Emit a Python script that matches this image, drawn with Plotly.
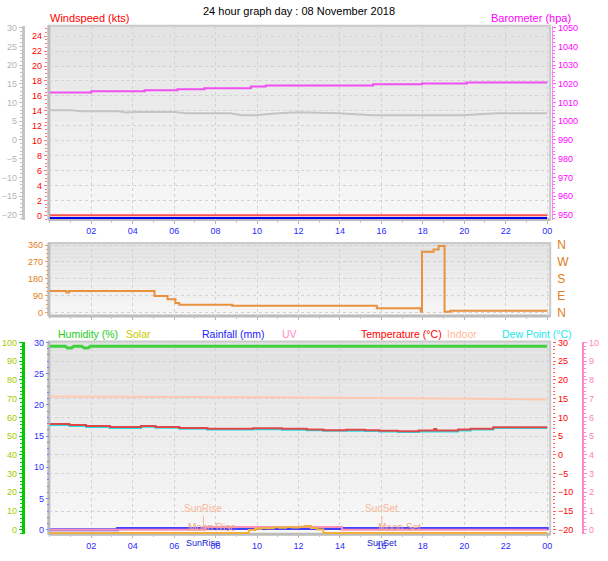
import plotly.graph_objects as go

W, H = 608, 561

# ---------------- data ----------------
hour_ticks = [2, 4, 6, 8, 10, 12, 14, 16, 18, 20, 22, 24]
hour_labels = ["02", "04", "06", "08", "10", "12", "14", "16", "18", "20", "22", "00"]

# panel 1 : wind / barometer
wind_t = [0, 24]
wind_speed_kts = [0, 0]
wind_gust_kts = [0, 0]

baro_t = [0, 2.0, 4.57, 6.16, 7.46, 9.7, 10.42, 15.6, 17.96, 20.12, 24]
baro_hpa = [1015.3, 1016.0, 1016.5, 1017.05, 1017.6, 1018.6, 1019.15, 1019.7, 1020.2, 1020.7, 1020.7]

feels_t = [0, 1.0, 1.5, 3.3, 3.7, 4.1, 6.0, 6.6, 8.7, 9.3, 9.9, 11.0, 12.0, 13.9, 15.6, 19.9, 21.6, 24]
feels_c = [7.93, 7.93, 7.67, 7.67, 7.33, 7.48, 7.48, 7.14, 7.14, 6.62, 6.62, 7.14, 7.4, 7.14, 6.62, 6.62, 7.14, 7.14]

# panel 2 : wind direction
dir_t = [0, 0.8, 0.92, 5.05, 5.68, 6.06, 6.25, 8.8, 15.78, 17.9, 17.96, 18.52, 18.76, 19.05, 19.32, 24]
dir_deg = [115, 107, 115, 89, 72, 52, 42, 37, 23, 5, 325, 337, 355, 5, 10, 10]
dir_ticks = [0, 90, 180, 270, 360]
dir_letters = ["N", "E", "S", "W", "N"]

# panel 3 : humidity / temperature / rain / uv / solar
hum_t = [0, 0.75, 0.85, 1.05, 1.15, 1.55, 1.65, 1.85, 1.95, 24]
hum_pct = [98, 98, 97, 97, 98, 98, 97, 97, 98, 98]

temp_t = [0, 0.95, 1.75, 2.9, 4.4, 5.1, 6.25, 7.6, 9.8, 11.2, 12.4, 13.2, 14.3, 15.2,
          15.9, 16.8, 17.8, 18.55, 18.65, 19.7, 20.3, 21.4, 24]
temp_c = [8.24, 7.97, 7.71, 7.45, 7.71, 7.45, 7.18, 7.0, 7.1, 6.95, 6.8, 6.6, 6.7, 6.6,
          6.45, 6.3, 6.47, 6.9, 6.47, 6.74, 7.0, 7.37, 7.37]
dew_c = [8.0, 7.7, 7.45, 7.2, 7.5, 7.25, 6.95, 6.8, 6.85, 6.7, 6.55, 6.4, 6.45, 6.35,
         6.2, 6.1, 6.25, 6.6, 6.25, 6.5, 6.8, 7.2, 7.2]

indoor_t = [0, 6, 12, 20.5, 24]
indoor_c = [15.6, 15.5, 15.3, 15.0, 14.8]

rain_t = [0, 3.27, 23.98, 24]
rain_mm = [0, 0.2, 0.2, 0]

uv_t = [0, 7.5, 14.1, 24]
uv_idx = [0, 0.15, 0, 0]

solar_t = [0, 9.6, 9.9, 10.2, 10.5, 10.8, 11.1, 11.4, 11.7, 12.0, 12.3, 12.6, 12.9, 13.2, 24]
solar_wm2 = [0, 15, 22, 26, 24, 29, 27, 31, 28, 32, 36, 25, 18, 0, 0]

sunrise_h = 7.41
sunset_h = 16.02
moonrise_h = 7.84
moonset_h = 16.88

# ---------------- layout helpers ----------------
FONT = "Liberation Sans, Arial, sans-serif"


def xf(px):
    return px / W


def yf(py):
    return 1 - py / H


def rng(va, pa, vb, pb, top, bot):
    s = (pb - pa) / (vb - va)
    return [va + (bot - pa) / s, va + (top - pa) / s]


def dom(p):
    return [yf(p[1]), yf(p[0])]


P1 = (21, 218)
P2 = (242, 316)
P3 = (342, 538)
XDOM = [xf(49), xf(552)]
XRNG = [(49 - 50) / 20.79, (552 - 50) / 20.79]

fig = go.Figure()

# panel 1
fig.add_trace(go.Scatter(x=feels_t, y=feels_c, xaxis="x", yaxis="y2", mode="lines",
                         line=dict(color="#c4c4c4", width=2)))
fig.add_trace(go.Scatter(x=baro_t, y=baro_hpa, xaxis="x", yaxis="y3", mode="lines",
                         line=dict(color="#f050f0", width=2, shape="hv")))
fig.add_trace(go.Scatter(x=wind_t, y=wind_speed_kts, xaxis="x", yaxis="y", mode="lines",
                         line=dict(color="#ff5050", width=2)))
fig.add_trace(go.Scatter(x=wind_t, y=wind_gust_kts, xaxis="x", yaxis="y4", mode="lines",
                         line=dict(color="#0000ee", width=2)))

# panel 2
fig.add_trace(go.Scatter(x=dir_t, y=dir_deg, xaxis="x2", yaxis="y5", mode="lines",
                         line=dict(color="#e8913e", width=2, shape="hv")))
fig.add_trace(go.Scatter(x=dir_t, y=dir_deg, xaxis="x2", yaxis="y6", mode="lines",
                         line=dict(color="rgba(0,0,0,0)", width=0), hoverinfo="skip"))

# panel 3
fig.add_trace(go.Scatter(x=rain_t, y=rain_mm, xaxis="x3", yaxis="y7", mode="lines",
                         line=dict(color="#4040ff", width=3, shape="hv")))
fig.add_trace(go.Scatter(x=hum_t, y=hum_pct, xaxis="x3", yaxis="y8", mode="lines",
                         line=dict(color="#3ed33e", width=3)))
fig.add_trace(go.Scatter(x=indoor_t, y=indoor_c, xaxis="x3", yaxis="y9", mode="lines",
                         line=dict(color="#ffc8b0", width=2)))
fig.add_trace(go.Scatter(x=temp_t, y=dew_c, xaxis="x3", yaxis="y9", mode="lines",
                         line=dict(color="#20e0e8", width=2, shape="hv")))
fig.add_trace(go.Scatter(x=temp_t, y=temp_c, xaxis="x3", yaxis="y9", mode="lines",
                         line=dict(color="#e04848", width=2, shape="hv")))
fig.add_trace(go.Scatter(x=uv_t, y=uv_idx, xaxis="x3", yaxis="y10", mode="lines",
                         line=dict(color="#ff90b8", width=2, shape="hv")))
fig.add_trace(go.Scatter(x=solar_t, y=solar_wm2, xaxis="x3", yaxis="y11", mode="lines",
                         line=dict(color="#f0b040", width=2, shape="hv")))


# ---------------- axes ----------------
def xax(anchor, labels=True):
    return dict(domain=XDOM, range=XRNG, anchor=anchor, tickmode="array",
                tickvals=hour_ticks, ticktext=hour_labels, showticklabels=labels,
                tickfont=dict(family=FONT, size=9, color="#2a2aff"),
                ticks="outside", ticklen=3, tickcolor="#b8b8b8",
                minor=dict(tickmode="linear", tick0=0, dtick=1, ticks="outside",
                           ticklen=2, tickcolor="#c8c8c8", showgrid=False),
                showgrid=True, gridcolor="#d2d2d2", griddash="dot", gridwidth=1,
                zeroline=False, showline=False, fixedrange=True)


def yax(r, pos, color, tickcol, dtick, minor, side="left", overlay=None, grid=False,
        line=None, lw=1, tickvals=None, ticktext=None, size=9, ticks="outside", dom_=None):
    d = dict(range=r, anchor="free", position=pos, side=side,
             tickfont=dict(family=FONT, size=size, color=color),
             ticks=ticks, ticklen=3, tickcolor=tickcol,
             showgrid=grid, gridcolor="#d2d2d2", griddash="dot", gridwidth=1,
             zeroline=False, fixedrange=True)
    if dom_ is not None:
        d["domain"] = dom_
    if overlay:
        d["overlaying"] = overlay
    if tickvals is not None:
        d.update(tickmode="array", tickvals=tickvals, ticktext=ticktext)
    else:
        d.update(tickmode="linear", tick0=0, dtick=dtick)
    if minor:
        d["minor"] = dict(tickmode="linear", tick0=0, dtick=minor, ticks="outside",
                          ticklen=2, tickcolor=tickcol, showgrid=False)
    if line:
        d.update(showline=True, linecolor=line, linewidth=lw)
    else:
        d["showline"] = False
    return d


r_red1 = rng(0, 213.8, 24, 31.7, P1[0], P1[1])
r_grey1 = rng(-20, 213.3, 30, 23, P1[0], P1[1])
r_mag1 = rng(950, 213.3, 1050, 23, P1[0], P1[1])
r_gust = rng(0, 216.6, 24, 216.6 - (213.8 - 31.7), P1[0], P1[1])
r_dir = rng(0, 312.7, 360, 244, P2[0], P2[1])
r_rain = rng(0, 533.3, 30, 343, P3[0], P3[1])
r_hum = rng(0, 533.3, 100, 343, P3[0], P3[1])
r_temp = rng(-20, 533.3, 30, 343, P3[0], P3[1])
r_uv = rng(0, 533.3, 10, 343, P3[0], P3[1])
r_solar = rng(0, 536.5, 1000, 536.5 - 195, P3[0], P3[1])

layout = dict(
    width=W, height=H, autosize=False,
    margin=dict(l=0, r=0, t=0, b=0),
    paper_bgcolor="white", plot_bgcolor="rgba(0,0,0,0)",
    showlegend=False, hovermode=False,
    font=dict(family=FONT, size=9),
    xaxis=xax("y"),
    xaxis2=xax("y5", labels=False),
    xaxis3=xax("y7"),
    yaxis=yax(r_red1, xf(47), "#ff0000", "#ff7878", 2, 0.5, grid=True, dom_=dom(P1)),
    yaxis2=yax(r_grey1, xf(23), "#b4b4b4", "#c0c0c0", 5, 1, overlay="y",
               line="#c4c4c4", lw=3),
    yaxis3=yax(r_mag1, xf(554), "#ff00ff", "#ff66ff", 10, 2, side="right", overlay="y",
               line="#ff80ff", lw=1),
    yaxis4=dict(range=r_gust, overlaying="y", visible=False, fixedrange=True),
    yaxis5=yax(r_dir, xf(48), "#e07b20", "#f0a060", 90, 22.5, grid=True, dom_=dom(P2)),
    yaxis6=yax(r_dir, xf(553), "#e07b20", "#f0a060", None, None, side="right",
               overlay="y5", tickvals=dir_ticks, ticktext=dir_letters, size=12, ticks=""),
    yaxis7=yax(r_rain, xf(49), "#3030ff", "#8080ff", 5, 1, dom_=dom(P3)),
    yaxis8=yax(r_hum, xf(23), "#a0cc00", "#00cc00", 10, 2, overlay="y7",
               line="#00cc00", lw=3),
    yaxis9=yax(r_temp, xf(554), "#ff0000", "#ff6060", 5, 1, side="right", overlay="y7",
               grid=True),
    yaxis10=yax(r_uv, xf(585), "#ff80c0", "#ff88cc", 1, 0.2, side="right", overlay="y7",
                line="#ff88cc", lw=2),
    yaxis11=dict(range=r_solar, overlaying="y7", visible=False, fixedrange=True),
)
layout["yaxis6"]["ticklabelstandoff"] = 5

# ---------------- background shapes ----------------
shapes = []


def mix(c1, c2, f):
    return "rgb(%d,%d,%d)" % tuple(round(a + (b - a) * f) for a, b in zip(c1, c2))


for xr, yr, top_c, bot_c in [("x", "y", (226, 226, 226), (248, 248, 248)),
                             ("x2", "y5", (224, 224, 224), (247, 247, 247)),
                             ("x3", "y7", (225, 225, 225), (248, 248, 248))]:
    n = 18
    for i in range(n):
        shapes.append(dict(type="rect", xref=xr + " domain", yref=yr + " domain",
                           x0=0, x1=1, y0=i / n, y1=(i + 1) / n,
                           fillcolor=mix(bot_c, top_c, (i + 0.5) / n),
                           line=dict(width=0), layer="below"))
    shapes.append(dict(type="rect", xref=xr + " domain", yref=yr + " domain",
                       x0=0, x1=1, y0=0, y1=1, line=dict(color="#cacaca", width=2),
                       layer="below"))
    shapes.append(dict(type="line", xref=xr + " domain", yref=yr + " domain",
                       x0=0, x1=0, y0=0, y1=1, line=dict(color="#bcbcbc", width=3),
                       layer="below"))
    shapes.append(dict(type="line", xref=xr + " domain", yref=yr + " domain",
                       x0=0, x1=1, y0=0, y1=0, line=dict(color="#bcbcbc", width=3),
                       layer="below"))

for t in (sunrise_h, sunset_h):
    shapes.append(dict(type="line", xref="x3", yref="paper", x0=t, x1=t,
                       y0=yf(532), y1=yf(519),
                       line=dict(color="#f8b898", width=1), layer="above"))

layout["shapes"] = shapes

# ---------------- text ----------------
ann = []


def txt(text, xpx, ypx, color, size=11, xanchor="left", xref="paper"):
    x = xf(xpx) if xref == "paper" else xpx
    ann.append(dict(text=text, x=x, y=yf(ypx), xref=xref, yref="paper",
                    xanchor=xanchor, yanchor="middle", showarrow=False,
                    font=dict(family=FONT, size=size, color=color)))


LS = 10.5
txt("24 hour graph day : 08 November 2018", 299.5, 6.5, "#000000", xanchor="center")
txt("Windspeed (kts)", 48, 13, "#ff0000")
txt("Barometer (hpa)", 575, 13, "#ff00ff", xanchor="right")
txt("Humidity (%)", 56, 334, "#22cc22", size=LS)
txt("Solar", 124, 334, "#c8c800", size=LS)
txt("Rainfall (mm)", 201, 334, "#2020ff", size=LS)
txt("UV", 281, 334, "#ff88cc", size=LS)
txt("Temperature (°C)", 360, 334, "#ff0000", size=LS)
txt("Indoor", 446, 334, "#ffb898", size=LS)
txt("Dew Point (°C)", 502, 334, "#20e8f0", size=LS)

txt("SunRise", sunrise_h, 512, "#f8b898", size=10, xanchor="center", xref="x3")
txt("SunSet", sunset_h, 512, "#f8b898", size=10, xanchor="center", xref="x3")
txt("Moon Rise", moonrise_h, 531, "#f0a890", size=10, xanchor="center", xref="x3")
txt("Moon Set", moonset_h, 531, "#f0a890", size=10, xanchor="center", xref="x3")
txt("SunRise", sunrise_h, 547, "#2020d0", size=9, xanchor="center", xref="x3")
txt("SunSet", sunset_h, 547, "#2020d0", size=9, xanchor="center", xref="x3")

layout["annotations"] = ann

fig.update_layout(**layout)
fig.write_html("out.html", config={"displayModeBar": False},
               post_script="document.body.style.margin='0px';")
